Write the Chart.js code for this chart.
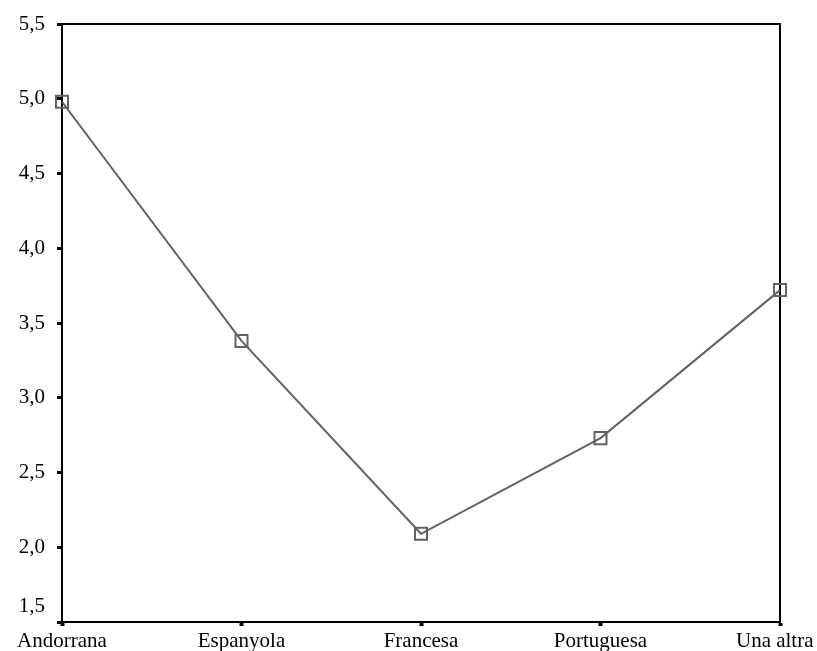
<!DOCTYPE html>
<html lang="ca">
<head>
  <meta charset="UTF-8" />
  <title>Mitjana per nacionalitat</title>
  <script src="https://cdn.jsdelivr.net/npm/chart.js"></script>
  <style>
    body { margin: 0; background: #fff; }
    #grafic { display: block; }
  </style>
</head>
<body>
  <canvas id="grafic" width="817" height="651"></canvas>

  <script>
    const categories = ["Andorrana", "Espanyola", "Francesa", "Portuguesa", "Una altra"];
    const valors = [4.98, 3.38, 2.09, 2.73, 3.72];
    const yMin = 1.5;
    const yMax = 5.5;
    const yStep = 0.5;

    // marc al voltant de l'àrea del gràfic
    const marc = {
      id: "marc",
      beforeDatasetsDraw(chart) {
        const { ctx, chartArea: a } = chart;
        ctx.save();
        ctx.strokeStyle = "#000";
        ctx.lineWidth = 2;
        ctx.strokeRect(a.left, a.top, a.right - a.left, a.bottom - a.top);
        ctx.restore();
      }
    };

    const lletra = { family: "'Liberation Serif', 'Times New Roman', serif", size: 21 };

    new Chart(document.getElementById("grafic").getContext("2d"), {
      type: "line",
      data: {
        labels: categories,
        datasets: [{
          data: valors,
          borderColor: "#626262",
          borderWidth: 2,
          pointStyle: "rect",
          pointRadius: 8.5,
          pointBorderWidth: 2,
          pointBorderColor: "#626262",
          pointBackgroundColor: "rgba(255,255,255,0)",
          tension: 0
        }]
      },
      options: {
        responsive: false,
        animation: false,
        layout: { padding: { top: 24, right: 37, left: 0, bottom: 0 } },
        plugins: {
          legend: { display: false },
          tooltip: { enabled: false }
        },
        scales: {
          x: {
            offset: false,
            grid: { drawOnChartArea: false, drawTicks: true, tickLength: 4, tickWidth: 4, tickColor: "#000" },
            border: { display: true, color: "#000", width: 2 },
            ticks: {
              color: "#000",
              font: lletra,
              padding: 3,
              maxRotation: 0,
              autoSkip: false,
              // l'última etiqueta es desplaça una mica a l'esquerra perquè no es talli
              callback: (v, i) => i === categories.length - 1 ? categories[i] + "\u2002" : categories[i]
            },
            afterFit(s) {
              s.height = 29;
              s.paddingLeft = 0;
              s.paddingRight = 0;
            }
          },
          y: {
            min: yMin,
            max: yMax,
            grid: { drawOnChartArea: false, drawTicks: true, tickLength: 5, tickWidth: 3, tickColor: "#000" },
            border: { display: true, color: "#000", width: 2 },
            ticks: {
              stepSize: yStep,
              color: "#000",
              font: { ...lletra, lineHeight: 1.45 },
              padding: 12,
              // l'etiqueta de baix puja una mica per no tocar les categories
              callback: (v) => {
                const t = v.toFixed(1).replace(".", ",");
                return v === yMin ? [t, ""] : t;
              }
            },
            afterFit(s) {
              s.width = 62;
              s.paddingTop = 0;
              s.paddingBottom = 0;
            }
          }
        }
      },
      plugins: [marc]
    });
  </script>
</body>
</html>
